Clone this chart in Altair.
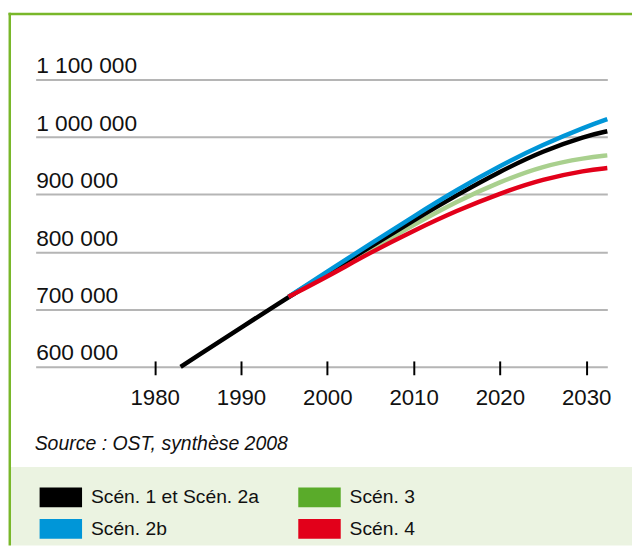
import altair as alt
import pandas as pd

# ---- data ----
hist_years = [1983, 1995.5]
hist_values = [600000, 722000]

proj_years = [1995.5, 2000, 2005, 2010, 2015, 2020, 2025, 2030, 2032.45]
scen_names = ["Scén. 1 et Scén. 2a", "Scén. 2b", "Scén. 3", "Scén. 4"]
scen1_2a = [722000, 763000, 809000, 855000, 899000, 940000, 976000, 1002000, 1010000]
scen2b = [722000, 766000, 814000, 862000, 908000, 950000, 987000, 1018000, 1031000]
scen3 = [722000, 761000, 804000, 847000, 888000, 922000, 950000, 964000, 968000]
scen4 = [722000, 757000, 799000, 837000, 872000, 902000, 927000, 942000, 946000]

line_colors = ["#000000", "#0096d8", "#a9d08e", "#e2001a"]
swatch_colors = ["#000000", "#0096d8", "#5aab2a", "#e2001a"]

x_ticks = [1980, 1990, 2000, 2010, 2020, 2030]
y_ticks = [600000, 700000, 800000, 900000, 1000000, 1100000]
source_text = "Source : OST, synthèse 2008"

FONT = "Liberation Sans"

# ---- table (drawing order: green, black, blue, red) ----
rows = []
for y, v in zip(proj_years, scen3):
    rows.append({"year": y, "value": v, "scen": scen_names[2]})
for y, v in zip(hist_years, hist_values):
    rows.append({"year": y, "value": v, "scen": scen_names[0]})
for y, v in zip(proj_years[1:], scen1_2a[1:]):
    rows.append({"year": y, "value": v, "scen": scen_names[0]})
for y, v in zip(proj_years, scen2b):
    rows.append({"year": y, "value": v, "scen": scen_names[1]})
for y, v in zip(proj_years, scen4):
    rows.append({"year": y, "value": v, "scen": scen_names[3]})
df = pd.DataFrame(rows)

one = alt.Data(values=[{}])

x_enc = alt.X(
    "year:Q",
    scale=alt.Scale(domain=[1966.2, 2032.45], nice=False, zero=False),
    axis=alt.Axis(
        values=x_ticks, format="d", title=None, domain=False, grid=False,
        ticks=True, tickColor="#000000", tickWidth=2, tickSize=14, offset=-6,
        labelPadding=12.5, labelFont=FONT, labelFontSize=22.5, labelColor="#111111",
        labelFlush=False, labelOverlap=False, labelBaseline="top",
    ),
)
y_enc = alt.Y(
    "value:Q",
    scale=alt.Scale(domain=[600000, 1100000], nice=False, zero=False),
    axis=alt.Axis(
        values=y_ticks, title=None, domain=False, ticks=False, tickSize=0,
        grid=True, gridColor="#b5b5b5", gridWidth=2,
        labelAlign="left", labelBaseline="alphabetic", labelPadding=0,
        labelOffset=-7, labelFont=FONT, labelFontSize=23, labelColor="#111111",
        labelFlush=False, labelOverlap=False,
        labelExpr="replace(format(datum.value, ','), regexp(',', 'g'), ' ')",
    ),
)

band = alt.Chart(one).mark_rect(color="#ebf3e1").encode(
    x=alt.value(-25), x2=alt.value(604), y=alt.value(392.3), y2=alt.value(472)
)
border_top = alt.Chart(one).mark_rule(color="#79b72a", strokeWidth=2.5).encode(
    x=alt.value(-27.5), x2=alt.value(604), y=alt.value(-66.5)
)
border_left = alt.Chart(one).mark_rule(color="#79b72a", strokeWidth=2.5).encode(
    x=alt.value(-26.2), y=alt.value(-67.7), y2=alt.value(472)
)

lines = alt.Chart(df).mark_line(strokeWidth=4.5, interpolate="basis").encode(
    x=x_enc,
    y=y_enc,
    color=alt.Color("scen:N", scale=alt.Scale(domain=scen_names, range=line_colors), legend=None),
)

legend_layer = alt.Chart(df).mark_point(filled=True, opacity=0).encode(
    x="year:Q",
    y="value:Q",
    color=alt.Color(
        "scen:N",
        scale=alt.Scale(domain=scen_names, range=swatch_colors),
        legend=alt.Legend(
            title=None, orient="none", legendX=4, legendY=401.5, columns=2,
            symbolType="M-1,-0.465H1V0.465H-1Z", symbolSize=1849,
            symbolStrokeWidth=0, symbolOpacity=1,
            labelFont=FONT, labelFontSize=19.5, labelColor="#111111",
            labelOffset=9, columnPadding=39, rowPadding=-18, padding=0,
            labelLimit=400,
        ),
    ),
)

source = alt.Chart(one).mark_text(
    align="left", baseline="middle", font=FONT, fontSize=19.7,
    fontStyle="italic", color="#111111",
).encode(x=alt.value(-1), y=alt.value(368.7), text=alt.value(source_text))

chart = (
    alt.layer(band, border_top, border_left, lines, legend_layer, source)
    .resolve_scale(color="independent")
    .properties(
        width=579, height=291,
        padding={"left": 28, "top": 69, "right": 25, "bottom": 181},
        autosize=alt.AutoSizeParams(type="none"),
        background="#ffffff",
    )
    .configure_view(stroke=None)
)

chart.save("out.html", embed_options={"renderer": "svg", "actions": False})
